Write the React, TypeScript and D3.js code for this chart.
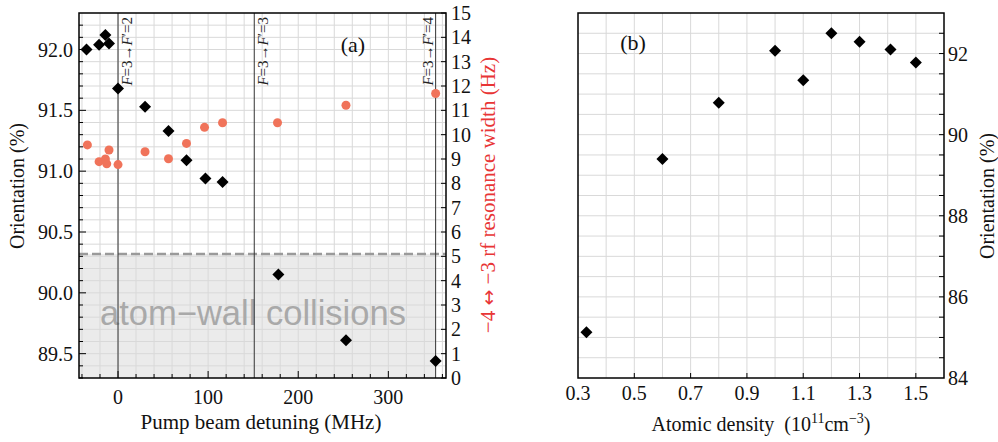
import React from 'react';
import * as d3 from 'd3';

// (a) orientation vs pump detuning (black diamonds, left axis)
const detuningOrient = [-35, -21, -14, -10, 0, 30, 56, 76, 97, 116, 178, 253, 352.5];
const orientationA = [92.0, 92.04, 92.12, 92.05, 91.68, 91.53, 91.33, 91.09, 90.94, 90.91, 90.15, 89.61, 89.44];

// (a) rf resonance width vs pump detuning (orange circles, right axis)
const detuningWidth = [-34, -21, -14, -12.5, -10, 0, 30, 56, 76, 96, 116, 177, 253, 352.5];
const widthHz = [9.58, 8.89, 9.0, 8.8, 9.37, 8.77, 9.3, 9.01, 9.64, 10.3, 10.49, 10.49, 11.21, 11.69];

// hyperfine transitions F=3 -> F'
const transitions = [
  { pos: 0, fp: '2' },
  { pos: 151.2, fp: '3' },
  { pos: 352.5, fp: '4' },
];
const wallLimit = 90.32;

// (b) orientation vs atomic density
const density = [0.33, 0.6, 0.8, 1.0, 1.1, 1.2, 1.3, 1.41, 1.5];
const orientationB = [85.13, 89.4, 90.79, 92.07, 91.34, 92.5, 92.29, 92.1, 91.78];

const xTicksA = [0, 100, 200, 300];
const yTicksA = [89.5, 90.0, 90.5, 91.0, 91.5, 92.0];
const yTicksA2 = d3.range(0, 16);
const xTicksB = [0.3, 0.5, 0.7, 0.9, 1.1, 1.3, 1.5];
const yTicksB = [84, 86, 88, 90, 92];

const serif = "'Liberation Serif', 'Times New Roman', serif";
const gridColor = '#d9d9d9';

const diamond = (x: number, y: number, r = 6) =>
  `M${x},${y - r}L${x + r},${y}L${x},${y + r}L${x - r},${y}Z`;

export default function App() {
  const width = 998;
  const height = 442;

  // panel (a)
  const a = { left: 79, right: 446, top: 13, bottom: 378 };
  const xA = d3.scaleLinear().domain([-43.3, 364]).range([a.left, a.right]);
  const yA = d3.scaleLinear().domain([89.3, 92.3]).range([a.bottom, a.top]);
  const yA2 = d3.scaleLinear().domain([0, 15]).range([a.bottom, a.top]);

  // panel (b)
  const b = { left: 578, right: 944, top: 13, bottom: 378 };
  const xB = d3.scaleLinear().domain([0.3, 1.6]).range([b.left, b.right]);
  const yB = d3.scaleLinear().domain([84, 93]).range([b.bottom, b.top]);

  const gridVA = d3.range(-40, 361, 20);
  const gridHA = d3.range(0.5, 15, 0.5);
  const minorYA = d3.range(89.3, 92.3, 0.1);
  const gridVB = d3.range(0.4, 1.55, 0.1);
  const gridHB = d3.range(84.5, 93, 0.5);

  return (
    <svg width={width} height={height} style={{ position: 'absolute', left: 0, top: 0 }} fontFamily={serif}>
      <rect width={width} height={height} fill="#fff" />

      {/* ---------- panel (a) ---------- */}
      <rect
        x={a.left}
        y={yA(wallLimit)}
        width={xA(352.5) - a.left}
        height={a.bottom - yA(wallLimit)}
        fill="#ebebeb"
      />
      {gridVA.map(v => (
        <line key={'va' + v} x1={xA(v)} x2={xA(v)} y1={a.top} y2={a.bottom} stroke={gridColor} />
      ))}
      {gridHA.map(v => (
        <line key={'ha' + v} x1={a.left} x2={a.right} y1={yA2(v)} y2={yA2(v)} stroke={gridColor} />
      ))}
      <line x1={a.left} x2={a.right} y1={yA(wallLimit)} y2={yA(wallLimit)} stroke="#9a9a9a" strokeWidth={2.5} strokeDasharray="9,4" />
      <text x={253} y={325} textAnchor="middle" fontFamily="'Liberation Sans', Arial, sans-serif" fontSize={34.5} fill="#a9a9a9">
        atom−wall collisions
      </text>

      {transitions.map(t => {
        const x = xA(t.pos);
        const tx = t.fp === '4' ? x - 3 : x + 14;
        return (
          <g key={t.fp}>
            <line x1={x} x2={x} y1={a.top} y2={a.bottom} stroke="#333" strokeWidth={1} />
            <text transform={`translate(${tx},${17}) rotate(-90)`} textAnchor="end" fontSize={15} fill="#222">
              <tspan fontStyle="italic">F</tspan>=3→<tspan fontStyle="italic">F</tspan>′={t.fp}
            </text>
          </g>
        );
      })}

      {detuningWidth.map((d, i) => (
        <circle key={'w' + i} cx={xA(d)} cy={yA2(widthHz[i])} r={4.5} fill="#f0735a" />
      ))}
      {detuningOrient.map((d, i) => (
        <path key={'o' + i} d={diamond(xA(d), yA(orientationA[i]))} fill="#000" />
      ))}

      {/* ticks (a) */}
      {minorYA.map(v => {
        const major = yTicksA.some(t => Math.abs(t - v) < 1e-6);
        return <line key={'ly' + v} x1={a.left} x2={a.left + (major ? 7 : 4)} y1={yA(v)} y2={yA(v)} stroke="#000" />;
      })}
      {gridVA.map(v => {
        const major = xTicksA.includes(v);
        return <line key={'bx' + v} x1={xA(v)} x2={xA(v)} y1={a.bottom} y2={a.bottom - (major ? 7 : 4)} stroke="#000" />;
      })}
      {yTicksA2.map(v => (
        <line key={'ry' + v} x1={a.right} x2={a.right - 5} y1={yA2(v)} y2={yA2(v)} stroke="#000" />
      ))}
      <rect x={a.left} y={a.top} width={a.right - a.left} height={a.bottom - a.top} fill="none" stroke="#000" strokeWidth={1.5} />

      {yTicksA.map(v => (
        <text key={'lyt' + v} x={a.left - 6} y={yA(v)} dy="0.35em" textAnchor="end" fontSize={20} fill="#111">
          {v.toFixed(1)}
        </text>
      ))}
      {yTicksA2.map(v => (
        <text key={'ryt' + v} x={a.right + 5} y={yA2(v)} dy="0.35em" textAnchor="start" fontSize={20} fill="#111">
          {v}
        </text>
      ))}
      {xTicksA.map(v => (
        <text key={'bxt' + v} x={xA(v)} y={404} textAnchor="middle" fontSize={20} fill="#111">
          {v}
        </text>
      ))}
      <text x={261} y={429} textAnchor="middle" fontSize={21} fill="#111">
        Pump beam detuning (MHz)
      </text>
      <text transform={`translate(24,186) rotate(-90)`} textAnchor="middle" fontSize={20} fill="#111">
        Orientation (%)
      </text>
      <text transform={`translate(495,195) rotate(-90)`} textAnchor="middle" fontSize={21} fill="#e83535">
        −4 <tspan fontFamily="'DejaVu Sans', sans-serif" fontSize={19}>↔</tspan> −3 rf resonance width (Hz)
      </text>
      <text x={353} y={52} textAnchor="middle" fontSize={22} fill="#111">
        (a)
      </text>

      {/* ---------- panel (b) ---------- */}
      {gridVB.map(v => (
        <line key={'vb' + v} x1={xB(v)} x2={xB(v)} y1={b.top} y2={b.bottom} stroke={gridColor} />
      ))}
      {gridHB.map(v => (
        <line key={'hb' + v} x1={b.left} x2={b.right} y1={yB(v)} y2={yB(v)} stroke={gridColor} />
      ))}
      {density.map((d, i) => (
        <path key={'b' + i} d={diamond(xB(d), yB(orientationB[i]))} fill="#000" />
      ))}
      {xTicksB.slice(1).map(v => (
        <line key={'bxb' + v} x1={xB(v)} x2={xB(v)} y1={b.bottom} y2={b.bottom - 5} stroke="#000" />
      ))}
      {gridHB.map(v => (
        <line key={'ryb' + v} x1={b.right} x2={b.right - 5} y1={yB(v)} y2={yB(v)} stroke="#000" />
      ))}
      <rect x={b.left} y={b.top} width={b.right - b.left} height={b.bottom - b.top} fill="none" stroke="#000" strokeWidth={1.5} />
      {xTicksB.map(v => (
        <text key={'bxbt' + v} x={xB(v)} y={400} textAnchor="middle" fontSize={20} fill="#111">
          {v.toFixed(1)}
        </text>
      ))}
      {yTicksB.map(v => (
        <text key={'rybt' + v} x={b.right + 4} y={yB(v)} dy="0.35em" textAnchor="start" fontSize={20} fill="#111">
          {v}
        </text>
      ))}
      <text x={761} y={431} textAnchor="middle" fontSize={20} fill="#111">
        Atomic density{'\u00a0\u00a0'}(10<tspan dy={-8} fontSize={14}>11</tspan>
        <tspan dy={8}>cm</tspan>
        <tspan dy={-8} fontSize={14}>−3</tspan>
        <tspan dy={8}>)</tspan>
      </text>
      <text transform={`translate(994,196) rotate(-90)`} textAnchor="middle" fontSize={20} fill="#111">
        Orientation (%)
      </text>
      <text x={633} y={50} textAnchor="middle" fontSize={22} fill="#111">
        (b)
      </text>
    </svg>
  );
}
